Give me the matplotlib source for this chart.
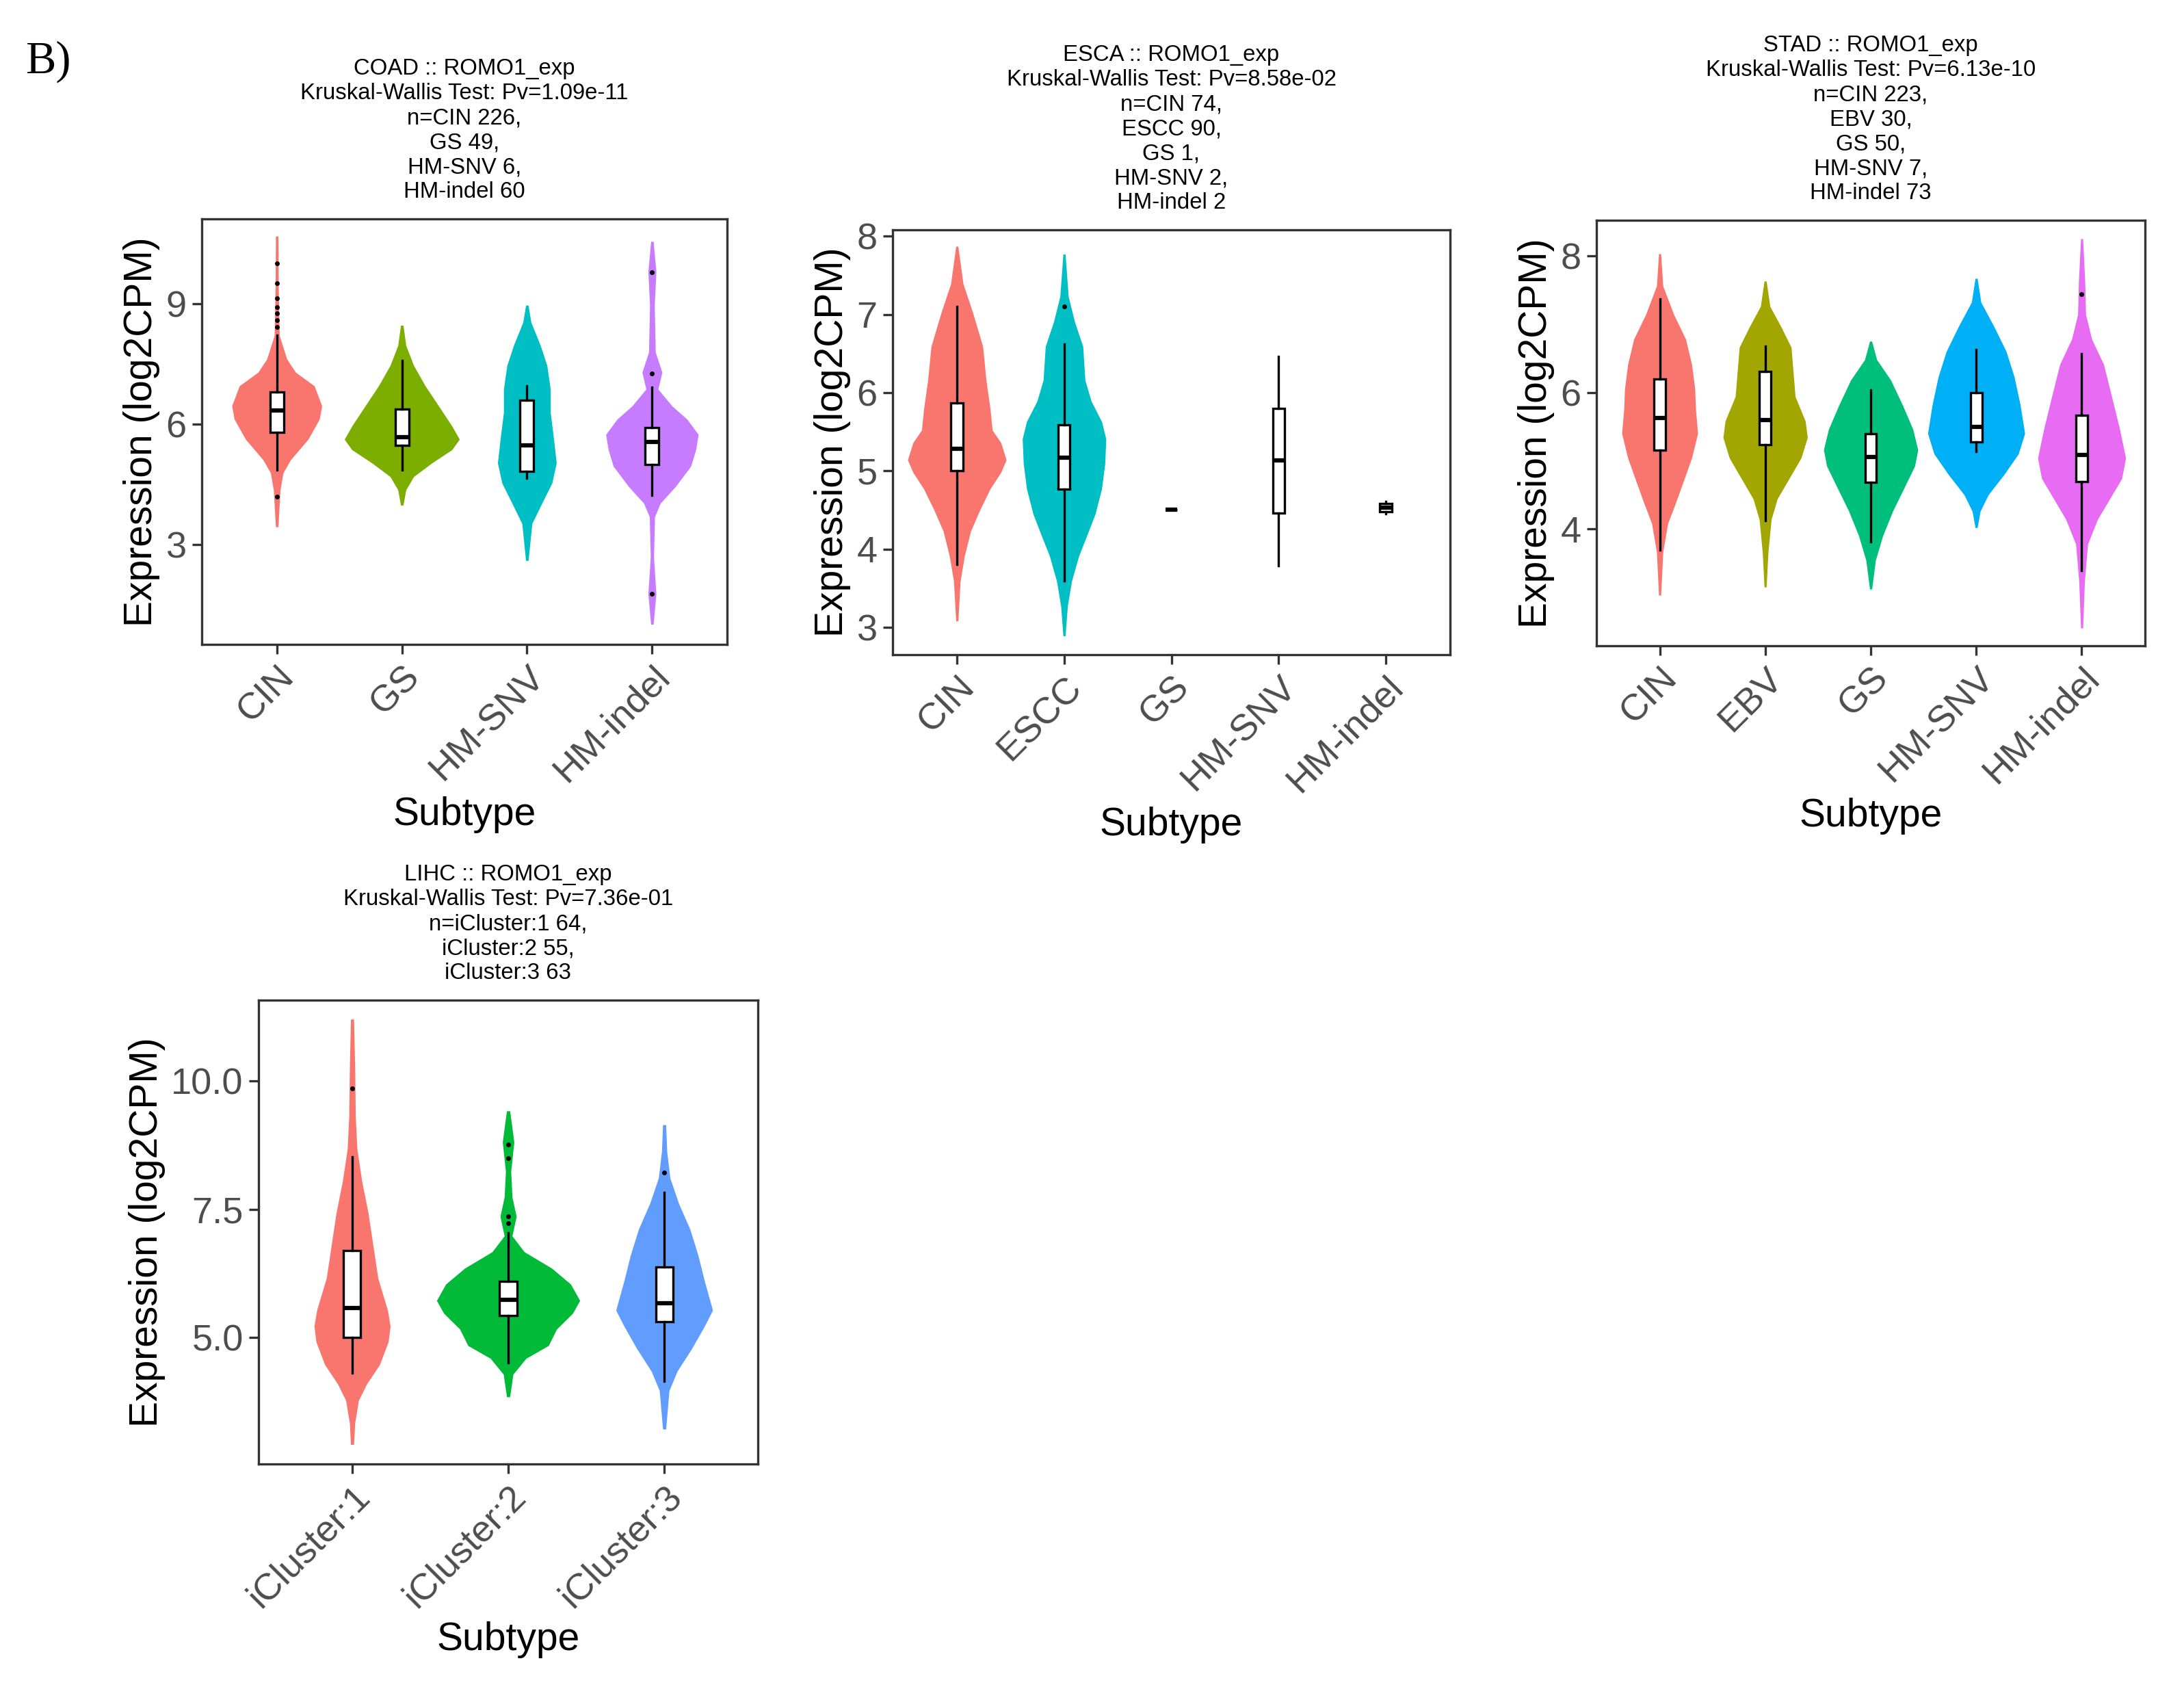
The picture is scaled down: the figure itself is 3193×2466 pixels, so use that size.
import matplotlib
matplotlib.use("Agg")
import matplotlib.pyplot as plt

plt.rcParams['font.family'] = ['Liberation Sans', 'DejaVu Sans']

# ---------------- data ----------------
# violin outlines are (value, half width in category units)

coad_groups = ["CIN", "GS", "HM-SNV", "HM-indel"]
coad_colors = ["#F8766D", "#7CAE00", "#00BFC4", "#C77CFF"]
coad_title = ("COAD :: ROMO1_exp\nKruskal-Wallis Test: Pv=1.09e-11\nn=CIN 226,\n"
              "GS 49,\nHM-SNV 6,\nHM-indel 60")
coad_yticks = [3, 6, 9]
coad_violins = [
    [(10.69, 0.01), (9.50, 0.012), (8.22, 0.02), (7.63, 0.08), (7.30, 0.15), (6.96, 0.30),
     (6.46, 0.36), (6.13, 0.34), (5.63, 0.25), (5.12, 0.11), (4.79, 0.05), (4.37, 0.027),
     (3.95, 0.019), (3.45, 0.01)],
    [(8.47, 0.01), (7.97, 0.032), (7.47, 0.094), (6.96, 0.187), (6.46, 0.294), (5.96, 0.40),
     (5.63, 0.46), (5.37, 0.40), (5.04, 0.24), (4.70, 0.094), (4.37, 0.032), (3.99, 0.01)],
    [(8.97, 0.01), (8.55, 0.032), (7.97, 0.107), (7.47, 0.16), (6.88, 0.187), (6.30, 0.187),
     (5.63, 0.214), (5.04, 0.235), (4.54, 0.20), (4.04, 0.12), (3.53, 0.04), (2.61, 0.01)],
    [(10.56, 0.01), (9.81, 0.032), (8.97, 0.019), (7.80, 0.027), (7.30, 0.08), (6.88, 0.048),
     (6.46, 0.16), (6.13, 0.28), (5.75, 0.37), (5.37, 0.35), (4.96, 0.31), (4.45, 0.187),
     (4.04, 0.067), (3.70, 0.021), (2.70, 0.013), (1.78, 0.032), (1.02, 0.01)],
]
# whislo, q1, median, q3, whishi
coad_boxes = [(4.87, 5.81, 6.35, 6.80, 8.22), (4.87, 5.48, 5.69, 6.38, 7.59),
              (4.66, 4.83, 5.48, 6.61, 6.96), (4.24, 5.00, 5.56, 5.92, 6.92)]
coad_outliers = [[10.02, 9.52, 9.14, 8.93, 8.76, 8.60, 8.43, 4.20], [], [], [9.79, 7.27, 1.78]]

esca_groups = ["CIN", "ESCC", "GS", "HM-SNV", "HM-indel"]
esca_colors = ["#F8766D", "#00BFC4", None, None, None]
esca_title = ("ESCA :: ROMO1_exp\nKruskal-Wallis Test: Pv=8.58e-02\nn=CIN 74,\n"
              "ESCC 90,\nGS 1,\nHM-SNV 2,\nHM-indel 2")
esca_yticks = [3, 4, 5, 6, 7, 8]
esca_violins = [
    [(7.87, 0.01), (7.39, 0.058), (7.02, 0.148), (6.59, 0.241), (6.16, 0.272), (5.79, 0.31),
     (5.52, 0.33), (5.36, 0.41), (5.14, 0.46), (4.98, 0.41), (4.77, 0.31), (4.50, 0.214),
     (4.23, 0.128), (3.91, 0.07), (3.59, 0.031), (3.08, 0.01)],
    [(7.77, 0.01), (7.23, 0.039), (6.91, 0.097), (6.59, 0.175), (6.16, 0.195), (5.89, 0.253),
     (5.63, 0.35), (5.41, 0.39), (5.09, 0.38), (4.77, 0.35), (4.45, 0.29), (4.18, 0.214),
     (3.91, 0.136), (3.59, 0.07), (3.27, 0.031), (2.89, 0.01)],
    [], [], [],
]
esca_boxes = [(3.80, 5.00, 5.28, 5.87, 7.10), (3.59, 4.77, 5.17, 5.59, 6.62),
              (4.50, 4.50, 4.50, 4.50, 4.50), (3.79, 4.46, 5.13, 5.80, 6.46),
              (4.45, 4.48, 4.53, 4.58, 4.61)]
esca_outliers = [[], [7.10], [], [], []]

stad_groups = ["CIN", "EBV", "GS", "HM-SNV", "HM-indel"]
stad_colors = ["#F8766D", "#A3A500", "#00BF7D", "#00B0F6", "#E76BF3"]
stad_title = ("STAD :: ROMO1_exp\nKruskal-Wallis Test: Pv=6.13e-10\nn=CIN 223,\n"
              "EBV 30,\nGS 50,\nHM-SNV 7,\nHM-indel 73")
stad_yticks = [4, 6, 8]
stad_violins = [
    [(8.03, 0.01), (7.56, 0.03), (7.14, 0.133), (6.78, 0.246), (6.41, 0.303), (6.05, 0.333),
     (5.76, 0.34), (5.40, 0.36), (5.04, 0.303), (4.68, 0.22), (4.38, 0.15), (4.08, 0.076),
     (3.66, 0.03), (3.03, 0.01)],
    [(7.63, 0.01), (7.26, 0.045), (6.96, 0.15), (6.66, 0.246), (6.30, 0.265), (5.94, 0.284),
     (5.58, 0.38), (5.34, 0.40), (5.04, 0.34), (4.74, 0.227), (4.44, 0.114), (4.14, 0.057),
     (3.66, 0.027), (3.15, 0.01)],
    [(6.75, 0.01), (6.48, 0.057), (6.18, 0.19), (5.82, 0.30), (5.46, 0.40), (5.16, 0.447),
     (4.92, 0.417), (4.62, 0.322), (4.26, 0.208), (3.90, 0.114), (3.54, 0.045), (3.12, 0.01)],
    [(7.67, 0.01), (7.32, 0.045), (6.96, 0.17), (6.60, 0.284), (6.23, 0.36), (5.82, 0.417),
     (5.40, 0.46), (5.10, 0.40), (4.80, 0.265), (4.50, 0.114), (4.26, 0.038), (4.02, 0.01)],
    [(8.25, 0.01), (7.62, 0.03), (7.14, 0.038), (6.78, 0.095), (6.41, 0.208), (5.94, 0.284),
     (5.46, 0.36), (5.04, 0.417), (4.74, 0.38), (4.44, 0.265), (4.14, 0.15), (3.78, 0.057),
     (3.24, 0.027), (2.55, 0.01)],
]
stad_boxes = [(3.69, 5.15, 5.63, 6.20, 7.37), (4.12, 5.23, 5.60, 6.31, 6.68),
              (3.81, 4.68, 5.05, 5.39, 6.04), (5.13, 5.27, 5.50, 6.00, 6.63),
              (3.39, 4.69, 5.08, 5.67, 6.57)]
stad_outliers = [[], [], [], [], [7.44]]

lihc_groups = ["iCluster:1", "iCluster:2", "iCluster:3"]
lihc_colors = ["#F8766D", "#00BA38", "#619CFF"]
lihc_title = ("LIHC :: ROMO1_exp\nKruskal-Wallis Test: Pv=7.36e-01\nn=iCluster:1 64,\n"
              "iCluster:2 55,\niCluster:3 63")
lihc_yticks = [5.0, 7.5, 10.0]
lihc_violins = [
    [(11.21, 0.01), (10.25, 0.017), (9.31, 0.021), (8.68, 0.031), (8.05, 0.062), (7.42, 0.103),
     (6.79, 0.134), (6.16, 0.165), (5.53, 0.227), (5.22, 0.244), (4.91, 0.231), (4.47, 0.176),
     (4.09, 0.093), (3.77, 0.041), (3.33, 0.017), (2.91, 0.01)],
    [(9.42, 0.01), (9.18, 0.021), (8.81, 0.037), (8.24, 0.017), (7.74, 0.025), (7.36, 0.052),
     (6.98, 0.025), (6.67, 0.103), (6.35, 0.279), (6.04, 0.40), (5.72, 0.459), (5.47, 0.413),
     (5.16, 0.31), (4.84, 0.258), (4.59, 0.114), (4.28, 0.031), (3.84, 0.01)],
    [(9.15, 0.01), (8.62, 0.017), (8.11, 0.037), (7.61, 0.093), (7.11, 0.165), (6.60, 0.217),
     (6.10, 0.258), (5.53, 0.31), (5.22, 0.258), (4.78, 0.176), (4.34, 0.083), (3.96, 0.031),
     (3.21, 0.01)],
]
lihc_boxes = [(4.31, 5.00, 5.58, 6.70, 8.52), (4.50, 5.42, 5.74, 6.10, 7.04),
              (4.15, 5.30, 5.67, 6.37, 7.83)]
lihc_outliers = [[9.86], [8.77, 8.49, 7.36, 7.23], [8.21]]

# ---------------- figure ----------------
W, H = 3193, 2466
fig = plt.figure(figsize=(W / 100, H / 100), dpi=100)
fig.patch.set_facecolor("white")


def make_axes(left, top, right, bottom):
    return fig.add_axes([left / W, (H - bottom) / H, (right - left) / W, (bottom - top) / H])


def draw_panel(ax, groups, colors, violins, boxes, outliers, title, yticks, ylim, fmt=None):
    pos = list(range(1, len(groups) + 1))
    for p, col, prof in zip(pos, colors, violins):
        if not prof:
            continue
        ys = [v for v, w in prof]
        ws = [w for v, w in prof]
        ax.fill_betweenx(ys, [p - w for w in ws], [p + w for w in ws],
                         color=col, lw=0, zorder=1)
    stats = []
    for b, fl in zip(boxes, outliers):
        stats.append(dict(whislo=b[0], q1=b[1], med=b[2], q3=b[3], whishi=b[4], fliers=fl))
    ax.bxp(stats, positions=pos, widths=0.11, patch_artist=True, showcaps=False,
           boxprops=dict(facecolor="white", edgecolor="black", linewidth=2.4),
           medianprops=dict(color="black", linewidth=4.5, solid_capstyle="butt"),
           whiskerprops=dict(color="black", linewidth=2.4),
           flierprops=dict(marker="o", markerfacecolor="black", markeredgecolor="none",
                           markersize=5), zorder=3)
    ax.set_xlim(0.4, len(groups) + 0.6)
    ax.set_ylim(*ylim)
    ax.set_yticks(yticks)
    if fmt:
        ax.set_yticklabels([fmt % t for t in yticks])
    ax.set_xticks(pos)
    ax.set_xticklabels(groups, rotation=45, ha="right", rotation_mode="anchor")
    ax.tick_params(axis="both", length=10, width=2.4, color="#333333",
                   labelsize=39, labelcolor="#4D4D4D", pad=6)
    for s in ax.spines.values():
        s.set_color("#333333")
        s.set_linewidth(2.4)
    ax.set_xlabel("Subtype", fontsize=41, labelpad=8)
    ax.set_ylabel("Expression (log2CPM)", fontsize=41, labelpad=6)
    ax.set_title(title, fontsize=23.7, linespacing=1.21, pad=22)


ax1 = make_axes(295, 320, 1063, 942)
draw_panel(ax1, coad_groups, coad_colors, coad_violins, coad_boxes, coad_outliers,
           coad_title, coad_yticks, (0.52, 11.12))

ax2 = make_axes(1305, 336, 2120, 957)
draw_panel(ax2, esca_groups, esca_colors, esca_violins, esca_boxes, esca_outliers,
           esca_title, esca_yticks, (2.65, 8.08))

ax3 = make_axes(2334, 322, 3136, 944)
draw_panel(ax3, stad_groups, stad_colors, stad_violins, stad_boxes, stad_outliers,
           stad_title, stad_yticks, (2.29, 8.52))

ax4 = make_axes(378, 1462, 1108, 2140)
draw_panel(ax4, lihc_groups, lihc_colors, lihc_violins, lihc_boxes, lihc_outliers,
           lihc_title, lihc_yticks, (2.53, 11.58), fmt="%.1f")

fig.text(37 / W, 1 - 90 / H, "B)", fontsize=48, family="Liberation Serif",
         ha="left", va="center")

fig.savefig("out.png", dpi=100, facecolor="white")
